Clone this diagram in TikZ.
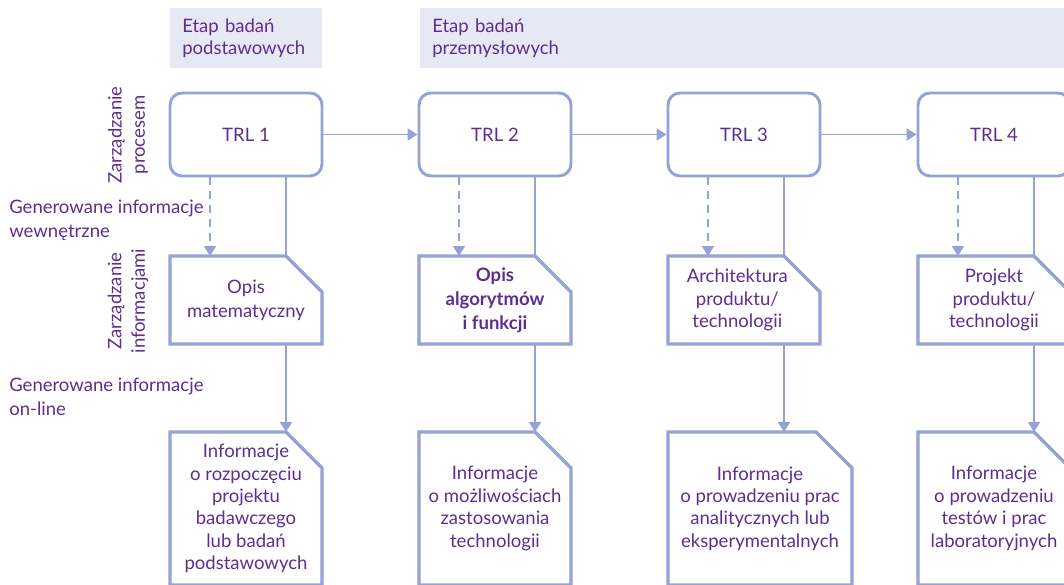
\documentclass[tikz,border=0pt]{standalone}
\usepackage{fontspec}
\setmainfont{Lato}
\usetikzlibrary{arrows.meta}
\definecolor{ink}{HTML}{5E2D91}
\definecolor{edge}{HTML}{94A2D6}
\definecolor{bandfill}{HTML}{E6E8F4}
% outline of a document box with its upper right corner cut off
\newcommand\foldbox[1]{%
  \draw[docline] (#1.north west) -- ([xshift=-27pt]#1.north east)
    -- ([yshift=-27pt]#1.north east) -- (#1.south east)
    -- (#1.south west) -- cycle;}
\begin{document}
\begin{tikzpicture}[x=0.75pt,y=-0.75pt,
  font=\fontsize{13.9}{16.8}\selectfont, text=ink,
  band/.style={fill=bandfill, minimum height=45pt, inner xsep=9pt, inner ysep=0pt,
    anchor=north west, align=left},
  trl/.style={draw=edge, line width=2.2pt, rounded corners=9pt,
    minimum width=114pt, minimum height=62.25pt, inner sep=0pt},
  doc/.style={outer sep=0pt, inner sep=0pt, minimum width=114pt, align=center},
  mid/.style={doc, minimum height=66pt},
  low/.style={doc, minimum height=114.75pt},
  docline/.style={draw=edge, line width=2.6pt, line join=miter},
  conn/.style={draw=edge, line width=1.3pt},
  flow/.style={conn, -{Triangle[length=7.5pt,width=9pt]}},
  flowdash/.style={flow, dash pattern=on 6pt off 4.5pt},
  side/.style={align=left, anchor=west, inner sep=0pt, font=\fontsize{13.9}{18}\selectfont}]
\useasboundingbox (0,0) rectangle (1064,585);
\clip (0,0) rectangle (1064,585);

% stage headers
\node[band, minimum width=114pt, text width=96pt] (h1) at (170,8) {Etap badań\\podstawowych};
\node[band, minimum width=510pt, text width=492pt] (h2) at (420,8) {Etap badań\\przemysłowych};

% row labels
\node[rotate=90, align=center, font=\fontsize{13.9}{17.5}\selectfont] (lproc) at (128,135) {Zarządzanie\\procesem};
\node[rotate=90, align=center, font=\fontsize{13.9}{17.5}\selectfont] (linfo) at (128,301) {Zarządzanie\\informacjami};
\node[side] (gin) at (9,220) {Generowane informacje\\wewnętrzne};
\node[side] (gon) at (9,397) {Generowane informacje\\on-line};

% TRL levels
\node[trl] (t1) at (246,134.5) {TRL 1};
\node[trl] (t2) at (495,134.5) {TRL 2};
\node[trl] (t3) at (744,134.5) {TRL 3};
\node[trl] (t4) at (994,134.5) {TRL 4};

% internal documents
\node[mid, font=\fontsize{13.9}{18}\selectfont] (m1) at (246,300) {Opis\\matematyczny};
\node[mid, font=\fontsize{13.9}{18}\selectfont\bfseries] (m2) at (495,300) {Opis\\algorytmów\\i funkcji};
\node[mid] (m3) at (744,300) {\hspace*{-10pt}Architektura\\\hspace*{-10pt}produktu/\\\hspace*{-10pt}technologii};
\node[mid] (m4) at (994,300) {Projekt\\produktu/\\technologii};
\foreach \n in {m1,m2,m3,m4} {\foldbox{\n}}

% on-line information
\node[low] (b1) at (246,508.5) {Informacje\\o rozpoczęciu\\projektu\\badawczego\\lub badań\\podstawowych};
\node[low] (b2) at (495,508.5) {Informacje\\o możliwościach\\zastosowania\\technologii};
\node[low, minimum width=138pt] (b3) at (760,508.5) {Informacje\\o prowadzeniu prac\\analitycznych lub\\eksperymentalnych};
\node[low] (b4) at (994,508.5) {Informacje\\o prowadzeniu\\testów i prac\\laboratoryjnych};
\foreach \n in {b1,b2,b3,b4} {\foldbox{\n}}

% process flow
\draw[flow] (t1) -- (t2);
\draw[flow] (t2) -- (t3);
\draw[flow] (t3) -- (t4);

% links from each level to its documents
\foreach \t/\m/\b in {t1/m1/b1, t2/m2/b2, t3/m3/b3, t4/m4/b4} {
  \draw[flowdash] ([xshift=-27pt]\t.south) -- ([xshift=-27pt]\t.south |- \m.north);
  \draw[conn] ([xshift=30pt]\t.south) -- ([xshift=30pt]\t.south |- \m.north);
  \draw[flow] ([xshift=30pt]\m.south) -- ([xshift=30pt]\m.south |- \b.north);
}
\end{tikzpicture}
\end{document}
